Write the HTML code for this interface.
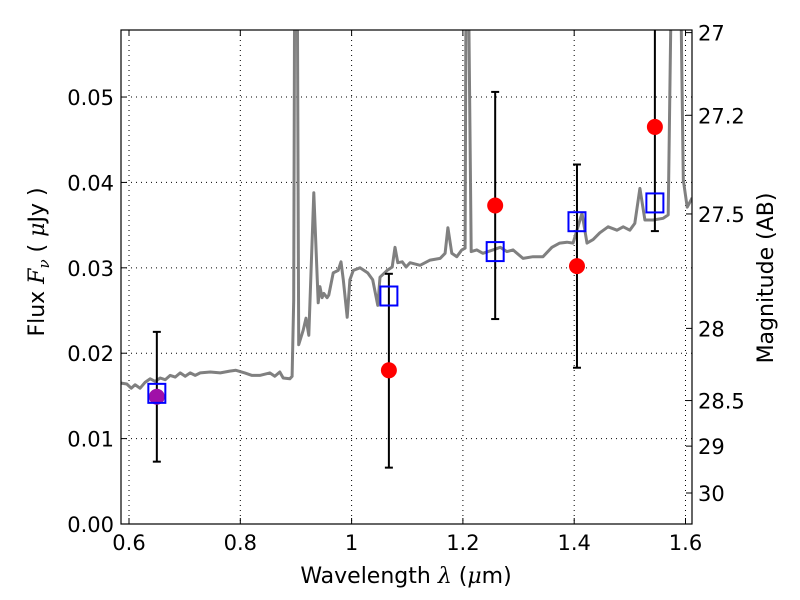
<!DOCTYPE html>
<html><head><meta charset="utf-8"><style>
body{margin:0;background:#fff;}
svg{display:block;font-family:"DejaVu Sans","Liberation Sans",sans-serif;}
</style></head><body>
<svg id="chart" width="800" height="600"></svg>
<script>
const specWave=[0.586,0.596,0.604,0.611,0.620,0.629,0.638,0.647,0.656,0.665,0.674,0.683,0.692,0.701,0.710,0.719,0.728,0.746,0.764,0.781,0.792,0.808,0.821,0.835,0.853,0.862,0.871,0.877,0.889,0.893,0.896,0.898,0.902,0.905,0.913,0.918,0.923,0.932,0.940,0.943,0.947,0.950,0.956,0.959,0.967,0.976,0.981,0.985,0.992,0.997,1.003,1.015,1.029,1.038,1.047,1.051,1.064,1.073,1.078,1.083,1.091,1.098,1.105,1.123,1.141,1.159,1.168,1.173,1.180,1.189,1.198,1.204,1.206,1.209,1.215,1.225,1.236,1.254,1.267,1.279,1.290,1.308,1.326,1.344,1.360,1.374,1.387,1.398,1.414,1.423,1.434,1.446,1.461,1.477,1.488,1.500,1.509,1.518,1.527,1.542,1.560,1.569,1.576,1.590,1.596,1.603,1.612];
const specFlux=[0.0165,0.0164,0.0159,0.0163,0.0159,0.0166,0.0170,0.0167,0.0171,0.0169,0.0174,0.0172,0.0177,0.0173,0.0177,0.0174,0.0177,0.0178,0.0177,0.0179,0.0180,0.0177,0.0174,0.0174,0.0177,0.0173,0.0178,0.0171,0.0170,0.0173,0.0262,0.07,0.07,0.0210,0.0227,0.0241,0.0221,0.0388,0.0259,0.0278,0.0265,0.0270,0.0265,0.0268,0.0294,0.0297,0.0307,0.0286,0.0242,0.0286,0.0297,0.0300,0.0294,0.0286,0.0256,0.0289,0.0297,0.0301,0.0324,0.0306,0.0307,0.0301,0.0306,0.0303,0.0309,0.0311,0.0317,0.0347,0.0317,0.0313,0.0321,0.0323,0.07,0.07,0.0319,0.0321,0.0317,0.0321,0.0324,0.0319,0.0321,0.0311,0.0313,0.0313,0.0324,0.0329,0.0330,0.0329,0.0364,0.0329,0.0333,0.0341,0.0348,0.0344,0.0348,0.0344,0.0352,0.0393,0.0356,0.0356,0.0358,0.0362,0.07,0.07,0.0403,0.0371,0.0382];
const obsWave=[0.65,1.067,1.258,1.405,1.545];
const obsFlux=[0.0149,0.018,0.0373,0.0302,0.0465];
const errLow=[0.0073,0.0066,0.024,0.0183,0.0343];
const errHigh=[0.0225,0.0293,0.0506,0.0421,0.07];
const modelFlux=[0.0153,0.0267,0.0319,0.0354,0.0376];
const xTicks=[0.6,0.8,1.0,1.2,1.4,1.6];
const xTickLabels=["0.6","0.8","1","1.2","1.4","1.6"];
const yTicks=[0,0.01,0.02,0.03,0.04,0.05];
const yTickLabels=["0.00","0.01","0.02","0.03","0.04","0.05"];
const magTicks=[27,27.2,27.5,28,28.5,29,30];
const magTickLabels=["27","27.2","27.5","28","28.5","29","30"];

const L=121,R=692,T=30,B=524;
const X0=0.5856,X1=1.6117,Y0=0,Y1=0.05785;
const sx=v=>L+(v-X0)/(X1-X0)*(R-L);
const sy=v=>B-(v-Y0)/(Y1-Y0)*(B-T);
const magToFlux=m=>Math.pow(10,(23.9-m)/2.5);
const NS="http://www.w3.org/2000/svg";
const svg=document.getElementById('chart');
function mk(tag,attrs,parent){const e=document.createElementNS(NS,tag);for(const k in attrs)e.setAttribute(k,attrs[k]);(parent||svg).appendChild(e);return e;}

const defs=mk('defs',{});
const cp=mk('clipPath',{id:'clip'},defs);
mk('rect',{x:L,y:T,width:R-L,height:B-T},cp);

xTicks.forEach(t=>{const x=sx(t);const g=mk('line',{x1:x,x2:x,y1:T,y2:B,stroke:'#000','stroke-width':1,'stroke-dasharray':'1,4'});

});
yTicks.forEach(t=>{const y=sy(t);const g=mk('line',{x1:L,x2:R,y1:y,y2:y,stroke:'#000','stroke-width':1,'stroke-dasharray':'1,4'});

});

const plot=mk('g',{'clip-path':'url(#clip)'});


let d='';specWave.forEach((w,i)=>{d+=(i?'L':'M')+sx(w).toFixed(1)+','+sy(specFlux[i]).toFixed(1);});
const sp=mk('path',{d:d,fill:'none',stroke:'#808080','stroke-width':3,'stroke-linejoin':'round'},plot);



obsWave.forEach((w,i)=>{
  const x=sx(w);
  const eb=mk('g',{},plot);
  
  
  mk('line',{x1:x,x2:x,y1:sy(errLow[i]),y2:sy(errHigh[i]),stroke:'#000','stroke-width':2},eb);
  [errLow[i],errHigh[i]].forEach(v=>mk('line',{x1:x-4,x2:x+4,y1:sy(v),y2:sy(v),stroke:'#000','stroke-width':2},eb));
});
obsWave.forEach((w,i)=>{
  const c=mk('circle',{cx:sx(w),cy:sy(obsFlux[i]),r:8,fill:i===0?'#a010a8':'#ff0000'},plot);
  
  
});
obsWave.forEach((w,i)=>{
  const s=mk('rect',{x:sx(w)-8.5,y:sy(modelFlux[i])-9.5,width:17,height:19,fill:'none',stroke:'#0000ff','stroke-width':2},plot);
  
  
});

const fr=mk('rect',{x:L,y:T,width:R-L,height:B-T,fill:'none',stroke:'#000','stroke-width':1.2});



xTicks.forEach((t,i)=>{const x=sx(t);
  mk('line',{x1:x,x2:x,y1:B,y2:B-6,stroke:'#000'});mk('line',{x1:x,x2:x,y1:T,y2:T+6,stroke:'#000'});
  const tx=mk('text',{x:x,y:B+26,'font-size':21,'text-anchor':'middle'});tx.textContent=xTickLabels[i];
  
  });
yTicks.forEach((t,i)=>{const y=sy(t);
  mk('line',{x1:L,x2:L+6,y1:y,y2:y,stroke:'#000'});
  const tx=mk('text',{x:L-7,y:y+8,'font-size':21,'text-anchor':'end'});tx.textContent=yTickLabels[i];
  
  });
magTicks.forEach((m,i)=>{const y=sy(magToFlux(m));
  mk('line',{x1:R,x2:R-6,y1:y,y2:y,stroke:'#000'});
  const tx=mk('text',{x:R+6,y:y+8,'font-size':21,'text-anchor':'start'});tx.textContent=magTickLabels[i];
  
  });
</script>
<svg width="800" height="600" style="position:absolute;left:0;top:0">
<text x="406" y="583" font-size="22" text-anchor="middle" font-family="DejaVu Sans,sans-serif">Wavelength  <tspan font-style="italic" font-family="DejaVu Serif,serif">λ</tspan> (<tspan font-style="italic" font-family="DejaVu Serif,serif">μ</tspan>m)</text>
<text transform="translate(44,262) rotate(-90)" font-size="22" text-anchor="middle" font-family="DejaVu Sans,sans-serif">Flux  <tspan font-style="italic" font-family="DejaVu Serif,serif">F</tspan><tspan font-style="italic" font-size="15" dy="5" font-family="DejaVu Serif,serif">ν</tspan><tspan dy="-5">  (  </tspan><tspan font-style="italic" font-family="DejaVu Serif,serif">μ</tspan>Jy )</text>
<text transform="translate(773,278) rotate(-90)" font-size="22" text-anchor="middle" font-family="DejaVu Sans,sans-serif">Magnitude (AB)</text>
</svg>
</body></html>
